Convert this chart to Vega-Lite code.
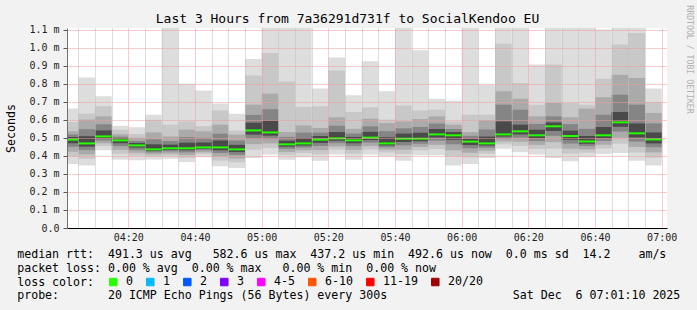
{
  "$schema": "https://vega.github.io/schema/vega-lite/v6.json",
  "width": 600,
  "height": 200,
  "autosize": {"type": "none"},
  "padding": {"left": 67, "top": 28, "right": 30, "bottom": 82},
  "background": "#f2f2f2",
  "view": {"fill": "white", "stroke": null},
  "title": {"text": "Last 3 Hours from 7a36291d731f to SocialKendoo EU", "font": "DejaVu Sans Mono", "fontSize": 13, "fontWeight": "normal", "color": "#000", "baseline": "alphabetic", "offset": 4, "dx": -19.5, "dy": 35, "anchor": "middle", "frame": "group"},
  "data": {"values": [
    {"s":240,"e":245,"m":0.490,"T":0.662,"S":0.588,"R":0.536,"h4":0.518,"h5":0.504,"B":0.355,"l2":0.396,"l3":0.423,"l4":0.450,"l5":0.470,"loss":"0"},
    {"s":245,"e":250,"m":0.469,"T":0.835,"S":0.634,"R":0.601,"h4":0.548,"h5":0.509,"B":0.347,"l2":0.384,"l3":0.408,"l4":0.432,"l5":0.451,"loss":"0"},
    {"s":250,"e":255,"m":0.508,"T":0.730,"S":0.675,"R":0.619,"h4":0.575,"h5":0.541,"B":0.431,"l2":0.454,"l3":0.470,"l4":0.485,"l5":0.496,"loss":"0"},
    {"s":255,"e":260,"m":0.486,"T":0.567,"S":0.545,"R":0.520,"h4":0.506,"h5":0.498,"B":0.379,"l2":0.411,"l3":0.433,"l4":0.454,"l5":0.470,"loss":"0"},
    {"s":260,"e":265,"m":0.458,"T":0.558,"S":0.521,"R":0.500,"h4":0.483,"h5":0.471,"B":0.375,"l2":0.400,"l3":0.417,"l4":0.433,"l5":0.446,"loss":"0"},
    {"s":265,"e":270,"m":0.436,"T":0.628,"S":0.600,"R":0.530,"h4":0.492,"h5":0.464,"B":0.379,"l2":0.396,"l3":0.408,"l4":0.419,"l5":0.427,"loss":"0"},
    {"s":270,"e":275,"m":0.442,"T":1.11,"S":0.573,"R":0.508,"h4":0.482,"h5":0.462,"B":0.384,"l2":0.401,"l3":0.413,"l4":0.425,"l5":0.433,"loss":"0"},
    {"s":275,"e":280,"m":0.442,"T":0.800,"S":0.591,"R":0.545,"h4":0.504,"h5":0.473,"B":0.366,"l2":0.389,"l3":0.404,"l4":0.419,"l5":0.431,"loss":"0"},
    {"s":280,"e":285,"m":0.447,"T":0.762,"S":0.564,"R":0.536,"h4":0.500,"h5":0.474,"B":0.392,"l2":0.409,"l3":0.420,"l4":0.431,"l5":0.439,"loss":"0"},
    {"s":285,"e":290,"m":0.447,"T":0.690,"S":0.651,"R":0.573,"h4":0.523,"h5":0.485,"B":0.342,"l2":0.374,"l3":0.395,"l4":0.416,"l5":0.431,"loss":"0"},
    {"s":290,"e":295,"m":0.436,"T":0.634,"S":0.540,"R":0.518,"h4":0.485,"h5":0.461,"B":0.333,"l2":0.364,"l3":0.385,"l4":0.405,"l5":0.421,"loss":"0"},
    {"s":295,"e":300,"m":0.541,"T":0.937,"S":0.845,"R":0.684,"h4":0.627,"h5":0.584,"B":0.388,"l2":0.434,"l3":0.465,"l4":0.495,"l5":0.518,"loss":"0"},
    {"s":300,"e":305,"m":0.530,"T":1.11,"S":0.970,"R":0.745,"h4":0.659,"h5":0.595,"B":0.407,"l2":0.444,"l3":0.469,"l4":0.493,"l5":0.512,"loss":"0"},
    {"s":305,"e":310,"m":0.464,"T":1.11,"S":0.813,"R":0.532,"h4":0.505,"h5":0.484,"B":0.379,"l2":0.405,"l3":0.422,"l4":0.439,"l5":0.451,"loss":"0"},
    {"s":310,"e":315,"m":0.469,"T":1.11,"S":0.671,"R":0.569,"h4":0.529,"h5":0.499,"B":0.392,"l2":0.415,"l3":0.431,"l4":0.446,"l5":0.457,"loss":"0"},
    {"s":315,"e":320,"m":0.490,"T":0.773,"S":0.675,"R":0.555,"h4":0.529,"h5":0.510,"B":0.373,"l2":0.408,"l3":0.432,"l4":0.455,"l5":0.472,"loss":"0"},
    {"s":320,"e":325,"m":0.497,"T":0.946,"S":0.873,"R":0.614,"h4":0.567,"h5":0.532,"B":0.407,"l2":0.434,"l3":0.452,"l4":0.470,"l5":0.484,"loss":"0"},
    {"s":325,"e":330,"m":0.486,"T":0.736,"S":0.643,"R":0.550,"h4":0.524,"h5":0.505,"B":0.379,"l2":0.411,"l3":0.433,"l4":0.454,"l5":0.470,"loss":"0"},
    {"s":330,"e":335,"m":0.501,"T":0.924,"S":0.669,"R":0.606,"h4":0.564,"h5":0.533,"B":0.407,"l2":0.435,"l3":0.454,"l4":0.473,"l5":0.487,"loss":"0"},
    {"s":335,"e":340,"m":0.469,"T":0.758,"S":0.601,"R":0.582,"h4":0.537,"h5":0.503,"B":0.398,"l2":0.419,"l3":0.434,"l4":0.448,"l5":0.458,"loss":"0"},
    {"s":340,"e":345,"m":0.495,"T":1.11,"S":0.680,"R":0.591,"h4":0.553,"h5":0.524,"B":0.373,"l2":0.410,"l3":0.434,"l4":0.458,"l5":0.477,"loss":"0"},
    {"s":345,"e":350,"m":0.495,"T":0.985,"S":0.651,"R":0.604,"h4":0.560,"h5":0.528,"B":0.403,"l2":0.431,"l3":0.449,"l4":0.467,"l5":0.481,"loss":"0"},
    {"s":350,"e":355,"m":0.519,"T":0.717,"S":0.656,"R":0.619,"h4":0.579,"h5":0.549,"B":0.403,"l2":0.438,"l3":0.461,"l4":0.484,"l5":0.502,"loss":"0"},
    {"s":355,"e":360,"m":0.514,"T":0.706,"S":0.591,"R":0.573,"h4":0.549,"h5":0.532,"B":0.347,"l2":0.397,"l3":0.431,"l4":0.464,"l5":0.489,"loss":"0"},
    {"s":360,"e":365,"m":0.479,"T":1.11,"S":0.628,"R":0.532,"h4":0.511,"h5":0.495,"B":0.355,"l2":0.392,"l3":0.417,"l4":0.442,"l5":0.460,"loss":"0"},
    {"s":365,"e":370,"m":0.469,"T":0.795,"S":0.628,"R":0.597,"h4":0.546,"h5":0.507,"B":0.388,"l2":0.412,"l3":0.429,"l4":0.445,"l5":0.457,"loss":"0"},
    {"s":370,"e":375,"m":0.519,"T":1.11,"S":1.022,"R":0.758,"h4":0.684,"h5":0.591,"B":0.440,"l2":0.464,"l3":0.480,"l4":0.494,"l5":0.507,"loss":"0"},
    {"s":375,"e":380,"m":0.536,"T":1.11,"S":0.804,"R":0.717,"h4":0.656,"h5":0.573,"B":0.420,"l2":0.455,"l3":0.478,"l4":0.501,"l5":0.519,"loss":"0"},
    {"s":380,"e":385,"m":0.514,"T":0.906,"S":0.684,"R":0.619,"h4":0.577,"h5":0.545,"B":0.407,"l2":0.439,"l3":0.461,"l4":0.482,"l5":0.498,"loss":"0"},
    {"s":385,"e":390,"m":0.564,"T":1.11,"S":0.906,"R":0.693,"h4":0.619,"h5":0.585,"B":0.388,"l2":0.441,"l3":0.476,"l4":0.511,"l5":0.538,"loss":"0"},
    {"s":390,"e":395,"m":0.510,"T":1.11,"S":0.693,"R":0.614,"h4":0.576,"h5":0.540,"B":0.370,"l2":0.412,"l3":0.440,"l4":0.468,"l5":0.489,"loss":"0"},
    {"s":395,"e":400,"m":0.480,"T":1.11,"S":0.684,"R":0.662,"h4":0.550,"h5":0.510,"B":0.392,"l2":0.418,"l3":0.436,"l4":0.454,"l5":0.467,"loss":"0"},
    {"s":400,"e":405,"m":0.514,"T":1.10,"S":0.828,"R":0.725,"h4":0.628,"h5":0.560,"B":0.410,"l2":0.441,"l3":0.462,"l4":0.483,"l5":0.498,"loss":"0"},
    {"s":405,"e":410,"m":0.586,"T":1.11,"S":1.017,"R":0.850,"h4":0.739,"h5":0.643,"B":0.416,"l2":0.467,"l3":0.501,"l4":0.535,"l5":0.561,"loss":"0"},
    {"s":410,"e":415,"m":0.525,"T":1.11,"S":1.081,"R":0.832,"h4":0.684,"h5":0.580,"B":0.373,"l2":0.419,"l3":0.449,"l4":0.479,"l5":0.502,"loss":"0"},
    {"s":415,"e":420,"m":0.491,"T":0.773,"S":0.699,"R":0.638,"h4":0.580,"h5":0.530,"B":0.347,"l2":0.390,"l3":0.419,"l4":0.448,"l5":0.469,"loss":"0"}
  ]},
  "resolve": {"axis": {"y": "independent"}},
  "encoding": {
    "x": {"field": "s", "type": "quantitative",
      "scale": {"domain": [241.6, 421.6], "nice": false, "zero": false},
      "axis": {
        "values": [245,250,255,260,265,270,275,280,285,290,295,300,305,310,315,320,325,330,335,340,345,350,355,360,365,370,375,380,385,390,395,400,405,410,415,420],
        "labelExpr": "datum.value % 20 == 0 ? (floor(datum.value/60) < 10 ? '0' : '') + floor(datum.value/60) + ':' + (datum.value % 60 < 10 ? '0' : '') + (datum.value % 60) : ''",
        "grid": true,
        "gridColor": {"condition": {"test": "datum.value % 20 == 0", "value": "#f29a9a"}, "value": "#bdbdbd"},
        "gridDash": [1, 1],
        "gridWidth": 1,
        "ticks": false,
        "domainColor": "#000",
        "domainWidth": 1,
        "labelFont": "DejaVu Sans Mono",
        "labelFontSize": 10,
        "labelColor": "#222",
        "labelPadding": 4,
        "labelFlush": false,
        "labelOverlap": false,
        "zindex": 1,
        "title": [
          "median rtt:\u00a0\u00a0491.3 us avg\u00a0\u00a0\u00a0582.6 us max\u00a0\u00a0437.2 us min\u00a0\u00a0492.6 us now\u00a0\u00a00.0 ms sd\u00a0\u00a014.2\u00a0\u00a0\u00a0\u00a0am/s",
          "packet loss: 0.00 % avg\u00a0\u00a00.00 % max\u00a0\u00a0\u00a00.00 % min\u00a0\u00a00.00 % now",
          "loss color:",
          "probe:\u00a0\u00a0\u00a0\u00a0\u00a0\u00a0\u00a020 ICMP Echo Pings (56 Bytes) every 300s\u00a0\u00a0\u00a0\u00a0\u00a0\u00a0\u00a0\u00a0\u00a0\u00a0\u00a0\u00a0\u00a0\u00a0\u00a0\u00a0\u00a0\u00a0Sat Dec\u00a0\u00a06 07:01:10 2025"
        ],
        "titleFont": "DejaVu Sans Mono",
        "titleFontSize": 11.6,
        "titleFontWeight": "normal",
        "titleColor": "#000",
        "titleAnchor": "start",
        "titleAlign": "left",
        "titleBaseline": "alphabetic",
        "titleX": -50.3,
        "titleY": 29.7,
        "titleLineHeight": 13.7
      }
    },
    "x2": {"field": "e"}
  },
  "layer": [
    {
      "mark": {"type": "rect", "color": "#dddddd", "clip": true},
      "encoding": {
        "y": {"field": "B", "type": "quantitative", "scale": {"domain": [0, 1.109], "nice": false},
          "axis": {
            "values": [0,0.1,0.2,0.3,0.4,0.5,0.6,0.7,0.8,0.9,1.0,1.1],
            "labelExpr": "datum.value == 0 ? '0.0\u00a0\u00a0' : format(datum.value, '.1f') + ' m'",
            "grid": true, "gridColor": "#f29a9a", "gridDash": [1, 1], "gridWidth": 1,
            "tickSize": 4, "tickColor": "#555",
            "domainColor": "#707070", "domainWidth": 1,
            "labelFont": "DejaVu Sans Mono", "labelFontSize": 10, "labelColor": "#222", "labelPadding": 4,
            "labelFlush": false, "labelOverlap": false,
            "zindex": 1,
            "title": "Seconds", "titleFont": "DejaVu Sans Mono", "titleFontSize": 11.6, "titleFontWeight": "normal", "titleColor": "#000",
            "titleX": -56, "titleY": 100, "titleAngle": 270, "titleAlign": "center", "titleBaseline": "middle"
          }
        },
        "y2": {"field": "T"}
      }
    },
    {
      "mark": {"type": "rect", "color": "#c8c8c8", "clip": true},
      "encoding": {
        "y": {"field": "l2", "type": "quantitative", "scale": {"domain": [0, 1.109], "nice": false},
          "axis": {"orient": "right", "labels": false, "ticks": false, "domain": false, "grid": false,
            "title": "RRDTOOL / TOBI OETIKER", "titleFont": "DejaVu Sans Mono", "titleFontSize": 8.2, "titleFontWeight": "normal", "titleColor": "#b0b0b0",
            "titleAngle": 90, "titleX": 21.5, "titleY": 31, "titleAlign": "center", "titleBaseline": "middle"}
        },
        "y2": {"field": "S"}
      }
    },
    {
      "mark": {"type": "rect", "color": "#aaaaaa", "clip": true},
      "encoding": {
        "y": {"field": "l3", "type": "quantitative", "scale": {"domain": [0, 1.109], "nice": false}, "axis": null},
        "y2": {"field": "R"}
      }
    },
    {
      "mark": {"type": "rect", "color": "#858585", "clip": true},
      "encoding": {
        "y": {"field": "l4", "type": "quantitative", "scale": {"domain": [0, 1.109], "nice": false}, "axis": null},
        "y2": {"field": "h4"}
      }
    },
    {
      "mark": {"type": "rect", "color": "#4a4a4a", "clip": true},
      "encoding": {
        "y": {"field": "l5", "type": "quantitative", "scale": {"domain": [0, 1.109], "nice": false}, "axis": null},
        "y2": {"field": "h5"}
      }
    },
    {
      "mark": {"type": "line", "interpolate": "step-after", "color": "#000", "strokeWidth": 1, "strokeDash": [1, 1], "clip": true},
      "encoding": {
        "x": {"field": "s", "type": "quantitative"},
        "y": {"field": "m", "type": "quantitative", "scale": {"domain": [0, 1.109], "nice": false}, "axis": null}
      }
    },
    {
      "mark": {"type": "rule", "strokeWidth": 2, "clip": true},
      "encoding": {
        "y": {"field": "m", "type": "quantitative", "scale": {"domain": [0, 1.109], "nice": false}, "axis": null},
        "color": {"field": "loss", "type": "nominal",
          "scale": {"domain": ["0","1","2","3","4-5","6-10","11-19","20/20"], "range": ["#26ff00","#00b8ff","#0059ff","#7e00ff","#ff00ff","#ff5500","#ff0000","#a10000"]},
          "legend": {"orient": "none", "legendX": 40.5, "legendY": 248, "direction": "horizontal", "columns": 8, "title": null,
            "symbolType": "square", "symbolSize": 56, "symbolStrokeWidth": 1, "symbolStrokeColor": "#000",
            "labelFont": "DejaVu Sans Mono", "labelFontSize": 11.6, "labelColor": "#000", "labelOffset": 7,
            "columnPadding": 11, "padding": 0,
            "encode": {"symbols": {"update": {"fill": {"scale": "color", "field": "value"}, "stroke": {"value": "#000"}, "fillOpacity": {"value": 1}, "opacity": {"value": 1}, "strokeWidth": {"value": 1}}}}
          }
        }
      }
    }
  ]
}
